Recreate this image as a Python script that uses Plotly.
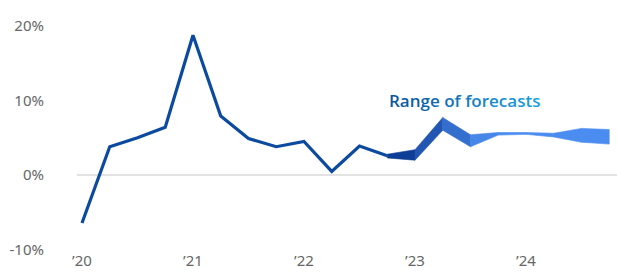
import plotly.graph_objects as go

quarters = [f"{y}Q{q}" for y in range(2020, 2025) for q in range(1, 5)]
actual = [-6.4, 3.8, 5.0, 6.4, 18.7, 7.9, 4.9, 3.8, 4.5, 0.5, 3.9, 2.6]
fc_high = [2.8, 3.4, 7.7, 5.4, 5.7, 5.7, 5.6, 6.25, 6.1]
fc_low = [2.3, 2.0, 6.0, 3.8, 5.35, 5.45, 5.1, 4.4, 4.15]
fc_start = 11
tick_vals = ["2020Q1", "2021Q1", "2022Q1", "2023Q1", "2024Q1"]
tick_text = ["\u201920", "\u201921", "\u201922", "\u201923", "\u201924"]
y_ticks = [-10, 0, 10, 20]
y_text = ["-10%", "0%", "10%", "20%"]
label = "Range of forecasts"


def lerp(c1, c2, t):
    return tuple(round(a + (b - a) * t) for a, b in zip(c1, c2))


def hexc(c):
    return "#%02x%02x%02x" % c


dark = (14, 62, 150)
light = (74, 140, 239)

fig = go.Figure()

fq = quarters[fc_start:fc_start + len(fc_high)]
nseg = len(fq) - 1
for j in range(nseg):
    t = min(1.0, j / 3.2)
    col = hexc(lerp(dark, light, t))
    fig.add_trace(go.Scatter(
        x=[fq[j], fq[j + 1], fq[j + 1], fq[j], fq[j]],
        y=[fc_high[j], fc_high[j + 1], fc_low[j + 1], fc_low[j], fc_high[j]],
        fill="toself", fillcolor=col, mode="lines",
        line=dict(color=col, width=0.6), hoverinfo="skip", showlegend=False))

fig.add_trace(go.Scatter(
    x=quarters[:len(actual)], y=actual, mode="lines",
    line=dict(color="#0b4a9f", width=3.2), showlegend=False))

# gradient text
c1 = (10, 88, 162)
c2 = (26, 160, 225)
n = len(label)
spans = "".join(
    f'<span style="color:{hexc(lerp(c1, c2, i / (n - 1)))}">{ch}</span>'
    for i, ch in enumerate(label))
fig.add_annotation(x=13.77, y=10.0, xref="x", yref="y", text=spans,
                   showarrow=False, xanchor="center", yanchor="middle",
                   font=dict(family="Open Sans", size=17, weight=600, color="#0f78bf"))

fig.update_layout(
    width=617, height=278,
    margin=dict(l=77, r=0, t=18, b=28),
    plot_bgcolor="white", paper_bgcolor="white",
    font=dict(family="Noto Sans", size=15, color="#666666"),
)
fig.update_xaxes(type="category", categoryorder="array", categoryarray=quarters,
                 range=[-0.18, 19.28], tickvals=tick_vals, ticktext=tick_text,
                 showgrid=False, zeroline=False, showline=False, ticks="",
                 automargin=False,
                 tickfont=dict(size=15, color="#666666"))
fig.update_yaxes(range=[-10, 21], tickvals=y_ticks, ticktext=y_text,
                 showgrid=False, zeroline=True, zerolinecolor="#e3e3e3",
                 zerolinewidth=1.5, showline=False, ticks="", automargin=False,
                 ticklabelstandoff=32, tickfont=dict(size=15, color="#666666"))

fig.write_html("out.html", config={"displayModeBar": False},
               post_script="document.body.style.margin='0';document.body.style.overflow='hidden';")
